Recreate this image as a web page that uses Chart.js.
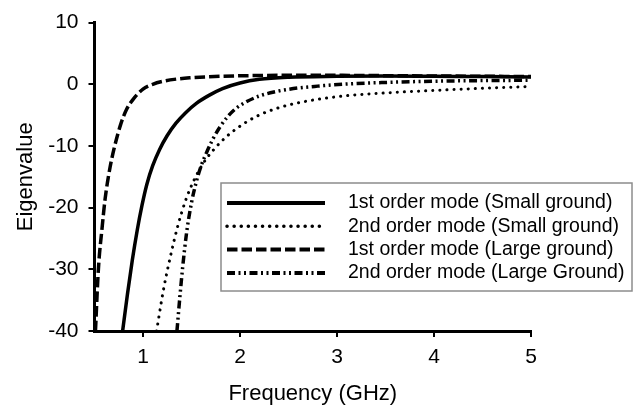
<!DOCTYPE html>
<html lang="en">
<head>
<meta charset="UTF-8">
<title>Eigenvalue vs Frequency</title>
<script src="https://cdn.jsdelivr.net/npm/chart.js"></script>
<style>
  body { margin: 0; background: #fff; }
  #wrap { width: 640px; height: 407px; }
</style>
</head>
<body>
<div id="wrap"><canvas id="eigenChart" width="640" height="407"></canvas></div>
<script>
// values
const seriesNames = [
  '1st order mode (Small ground)',
  '2nd order mode (Small ground)',
  '1st order mode (Large ground)',
  '2nd order mode (Large Ground)'
];

const freqSmall1 = [0.79, 0.84, 0.89, 0.94, 0.99, 1.04, 1.1, 1.17, 1.25, 1.34, 1.44, 1.55, 1.68, 1.82, 2.0, 2.2, 2.5, 3.0, 3.5, 4.0, 4.5, 5.0];
const eigSmall1  = [-40, -34, -28.5, -23.7, -19.6, -16.2, -13.2, -10.6, -8.3, -6.3, -4.6, -3.1, -1.8, -0.7, 0.2, 0.8, 1.15, 1.3, 1.35, 1.3, 1.25, 1.2];

const freqSmall2 = [1.14, 1.21, 1.28, 1.36, 1.44, 1.53, 1.63, 1.74, 1.86, 2.0, 2.17, 2.4, 2.7, 3.07, 3.5, 4.0, 4.5, 5.0];
const eigSmall2  = [-40, -33.4, -28.1, -22.9, -18.8, -15.4, -12.6, -10.4, -8.5, -6.8, -5.2, -3.8, -2.7, -1.9, -1.4, -1.0, -0.65, -0.35];

const freqLarge1 = [0.51, 0.54, 0.58, 0.61, 0.66, 0.71, 0.77, 0.83, 0.9, 1.0, 1.1, 1.21, 1.35, 1.48, 1.65, 1.82, 2.1, 2.5, 3.0, 3.5, 4.0, 4.5, 5.0];
const eigLarge1  = [-40, -30, -23, -18.5, -13.5, -9.9, -6.5, -4.1, -2.4, -0.8, 0, 0.5, 0.85, 1.05, 1.2, 1.3, 1.4, 1.45, 1.45, 1.4, 1.35, 1.3, 1.25];

const freqLarge2 = [1.35, 1.38, 1.41, 1.45, 1.5, 1.55, 1.6, 1.66, 1.72, 1.79, 1.87, 1.96, 2.07, 2.2, 2.35, 2.55, 2.8, 3.1, 3.5, 4.0, 4.5, 5.0];
const eigLarge2  = [-40, -34.5, -29.5, -24, -19.2, -15.8, -13.2, -10.9, -8.9, -7.0, -5.3, -3.9, -2.8, -1.9, -1.25, -0.7, -0.3, 0.05, 0.3, 0.5, 0.6, 0.65];

const xTicks = [1, 2, 3, 4, 5];
const yTicks = [10, 0, -10, -20, -30, -40];

function toPoints(xs, ys) {
  return xs.map((x, i) => ({ x: x, y: ys[i] }));
}

Chart.defaults.font.family = '"Liberation Sans", Arial, sans-serif';
Chart.defaults.color = '#000';

// legend box sitting inside the plot, lower right
const boxLegend = {
  id: 'boxLegend',
  afterDatasetsDraw(chart) {
    const ctx = chart.ctx;
    ctx.save();
    ctx.fillStyle = '#fff';
    ctx.fillRect(221, 183, 411, 108);
    ctx.strokeStyle = '#8c8c8c';
    ctx.lineWidth = 1.5;
    ctx.strokeRect(221, 183, 411, 108);
    chart.data.datasets.forEach((ds, i) => {
      const y = 203 + i * 23.3;
      ctx.beginPath();
      ctx.setLineDash(ds.borderDash || []);
      ctx.lineCap = ds.borderCapStyle || 'butt';
      ctx.lineWidth = ds.borderWidth + 0.5;
      ctx.strokeStyle = ds.borderColor;
      ctx.moveTo(227, y);
      ctx.lineTo(325, y);
      ctx.stroke();
      ctx.setLineDash([]);
      ctx.fillStyle = '#000';
      ctx.font = '19.5px "Liberation Sans", Arial, sans-serif';
      ctx.textBaseline = 'middle';
      ctx.textAlign = 'left';
      ctx.fillText(ds.label, 348, y);
    });
    ctx.restore();
  }
};

const common = { borderColor: '#000', pointRadius: 0, fill: false, cubicInterpolationMode: 'monotone' };

new Chart(document.getElementById('eigenChart'), {
  type: 'line',
  data: {
    datasets: [
      { ...common, label: seriesNames[0], data: toPoints(freqSmall1, eigSmall1), borderWidth: 3.5 },
      { ...common, label: seriesNames[1], data: toPoints(freqSmall2, eigSmall2), borderWidth: 3, borderDash: [0.1, 7], borderCapStyle: 'round' },
      { ...common, label: seriesNames[2], data: toPoints(freqLarge1, eigLarge1), borderWidth: 3.5, borderDash: [10.5, 4] },
      { ...common, label: seriesNames[3], data: toPoints(freqLarge2, eigLarge2), borderWidth: 3.5, borderDash: [8, 3.5, 2, 3.5, 2, 3.5] }
    ]
  },
  options: {
    responsive: false,
    animation: false,
    layout: { padding: { top: 19, right: 109, left: 0, bottom: 0 } },
    plugins: { legend: { display: false }, tooltip: { enabled: false } },
    scales: {
      x: {
        type: 'linear',
        min: 0.5,
        max: 5,
        afterBuildTicks: s => { s.ticks = xTicks.map(v => ({ value: v })); },
        afterFit: s => { s.height = 76; },
        grid: { display: true, drawOnChartArea: false, drawTicks: true, tickLength: 6, color: '#000', lineWidth: 2 },
        border: { display: true, color: '#000', width: 3 },
        ticks: { font: { size: 21 }, padding: 8, maxRotation: 0 },
        title: { display: true, text: 'Frequency (GHz)', font: { size: 22 }, padding: { top: 0, bottom: 0 } }
      },
      y: {
        min: -40,
        max: 10,
        afterBuildTicks: s => { s.ticks = yTicks.map(v => ({ value: v })); },
        afterFit: s => { s.width = 94.5; },
        grid: { display: true, drawOnChartArea: false, drawTicks: true, tickLength: 6, color: '#000', lineWidth: 2 },
        border: { display: true, color: '#000', width: 3 },
        ticks: { font: { size: 21 }, padding: 10 },
        title: { display: true, text: 'Eigenvalue', font: { size: 22 }, padding: { top: 13, bottom: 0 } }
      }
    }
  },
  plugins: [boxLegend]
});
</script>
</body>
</html>
